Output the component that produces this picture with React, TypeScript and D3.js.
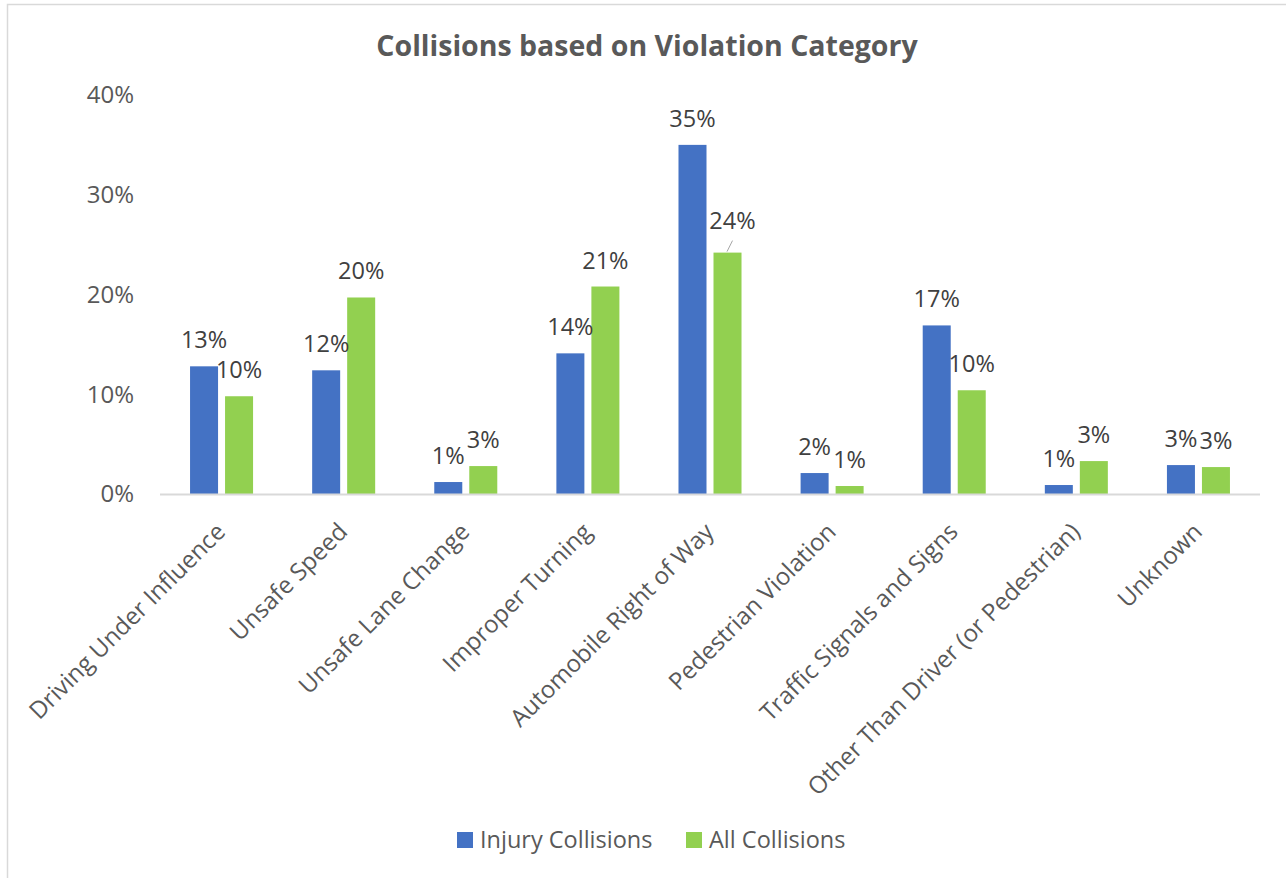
import React from "react";
import * as d3 from "d3";

const categories = [
  "Driving Under Influence",
  "Unsafe Speed",
  "Unsafe Lane Change",
  "Improper Turning",
  "Automobile Right of Way",
  "Pedestrian Violation",
  "Traffic Signals and Signs",
  "Other Than Driver (or Pedestrian)",
  "Unknown",
];
const seriesNames = ["Injury Collisions", "All Collisions"];
const injury = [12.8, 12.4, 1.2, 14.1, 35.0, 2.1, 16.9, 0.9, 2.9];
const allCollisions = [9.8, 19.7, 2.8, 20.8, 24.2, 0.8, 10.4, 3.3, 2.7];
const yTicks = [0, 10, 20, 30, 40];
const colors = ["#4472C4", "#92D050"];

const W = 1286;
const H = 878;
const FONT = "'Open Sans', 'Noto Sans', sans-serif";

export default function App() {
  const x = d3.scaleBand<string>().domain(categories).range([160.5, 1259.5]).padding(0);
  const xs = d3
    .scaleBand<number>()
    .domain([0, 1])
    .range([0, x.bandwidth()])
    .paddingInner(0.2)
    .paddingOuter(0.844);
  const y = d3.scaleLinear().domain([0, 40]).range([494, 95]);
  const series = [injury, allCollisions];

  return (
    <svg
      width={W}
      height={H}
      style={{ position: "absolute", left: 0, top: 0, background: "#fff" }}
      fontFamily={FONT}
    >
      <rect x={7.5} y={4.5} width={1290} height={880} fill="#fff" stroke="#d9d9d9" strokeWidth={1.5} />
      <text x={647} y={56} textAnchor="middle" fontSize={28.5} fontWeight="bold" fill="#595959">
        Collisions based on Violation Category
      </text>

      {yTicks.map((t) => (
        <text key={t} x={134} y={y(t)} dy="0.35em" textAnchor="end" fontSize={24} fill="#595959">
          {t}%
        </text>
      ))}

      {series.map((vals, si) =>
        vals.map((v, i) => {
          const bx = (x(categories[i]) as number) + (xs(si) as number);
          return (
            <rect
              key={`b${si}-${i}`}
              x={bx}
              y={y(v)}
              width={xs.bandwidth()}
              height={y(0) - y(v)}
              fill={colors[si]}
            />
          );
        })
      )}

      <line x1={160} x2={1260} y1={494.5} y2={494.5} stroke="#d9d9d9" strokeWidth={2} />

      {series.map((vals, si) =>
        vals.map((v, i) => {
          const cx = (x(categories[i]) as number) + (xs(si) as number) + xs.bandwidth() / 2;
          const shifted = si === 1 && i === 4;
          const lx = shifted ? cx + 5 : cx;
          const ly = shifted ? y(v) - 24 : y(v) - 18;
          return (
            <g key={`l${si}-${i}`}>
              {shifted && (
                <line x1={cx + 5} y1={y(v) - 12} x2={cx - 0.5} y2={y(v) - 1} stroke="#a6a6a6" strokeWidth={1} />
              )}
              <text x={lx} y={ly} textAnchor="middle" fontSize={23.5} fill="#404040">
                {Math.round(v)}%
              </text>
            </g>
          );
        })
      )}

      {categories.map((c) => {
        const cx = (x(c) as number) + x.bandwidth() / 2;
        return (
          <text
            key={c}
            transform={`translate(${cx - 7},${521}) rotate(-45)`}
            dy="0.72em"
            textAnchor="end"
            fontSize={24}
            fill="#595959"
          >
            {c}
          </text>
        );
      })}

      {seriesNames.map((s, i) => {
        const lx = i === 0 ? 457 : 686;
        return (
          <g key={s}>
            <rect x={lx} y={832} width={16} height={16} fill={colors[i]} />
            <text x={lx + 23} y={840} dy="0.35em" fontSize={23.5} fill="#595959">
              {s}
            </text>
          </g>
        );
      })}
    </svg>
  );
}
